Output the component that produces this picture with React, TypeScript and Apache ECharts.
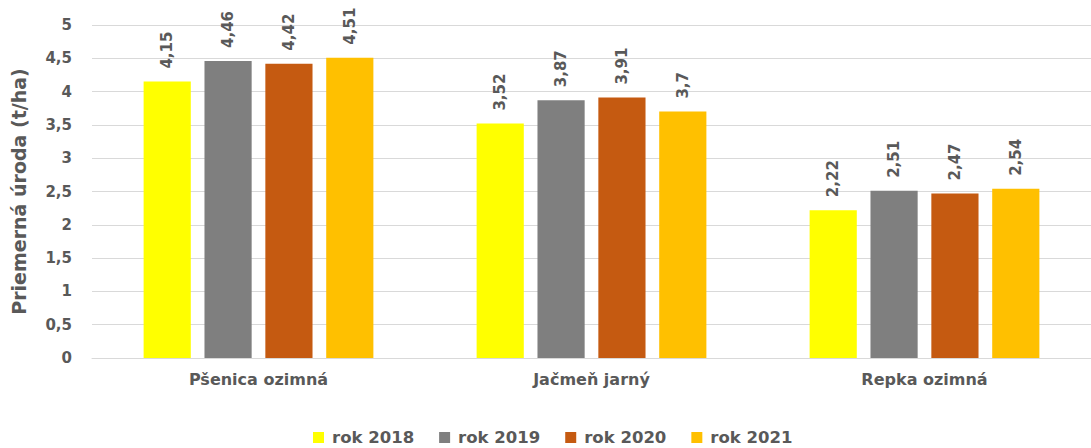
import React, { useEffect, useRef } from "react";
import * as echarts from "echarts";

const categories = ["Pšenica ozimná", "Jačmeň jarný", "Repka ozimná"];
const seriesNames = ["rok 2018", "rok 2019", "rok 2020", "rok 2021"];
const rok2018 = [4.15, 3.52, 2.22];
const rok2019 = [4.46, 3.87, 2.51];
const rok2020 = [4.42, 3.91, 2.47];
const rok2021 = [4.51, 3.7, 2.54];
const colors = ["#FFFF00", "#7F7F7F", "#C55A11", "#FFC000"];

const FONT = "DejaVu Sans";
const TXT = "#595959";

export default function App() {
  const ref = useRef<HTMLDivElement>(null);
  useEffect(() => {
    document.body.style.margin = "0";
    const chart = echarts.init(ref.current!, null, { renderer: "svg" });
    const data = [rok2018, rok2019, rok2020, rok2021];
    chart.setOption({
      animation: false,
      textStyle: { fontFamily: FONT },
      grid: { left: 92, right: -9, top: 25, bottom: 90 },
      legend: {
        top: 429,
        left: 313,
        padding: 0,
        itemWidth: 11,
        itemHeight: 11,
        itemGap: 25,
        icon: "rect",
        textStyle: { color: TXT, fontSize: 16.5, fontWeight: "bold", fontFamily: FONT, padding: [0, 0, 0, 3] },
        data: seriesNames,
      },
      xAxis: {
        type: "category",
        data: categories,
        axisLine: { lineStyle: { color: "#D9D9D9" } },
        axisTick: { show: false },
        axisLabel: { color: TXT, fontSize: 16, fontWeight: "bold", margin: 13, fontFamily: FONT },
      },
      yAxis: {
        type: "value",
        min: 0,
        max: 5,
        interval: 0.5,
        name: "Priemerná úroda (t/ha)",
        nameLocation: "middle",
        nameGap: 64,
        nameTextStyle: { color: TXT, fontSize: 19, fontWeight: "bold", fontFamily: FONT },
        axisLine: { show: false },
        axisTick: { show: false },
        splitLine: { lineStyle: { color: "#D9D9D9" } },
        axisLabel: {
          color: TXT,
          fontSize: 15,
          fontWeight: "bold",
          margin: 20,
          fontFamily: FONT,
          formatter: (v: number) => String(v).replace(".", ","),
        },
      },
      series: seriesNames.map((name, i) => ({
        name,
        type: "bar",
        data: data[i],
        itemStyle: { color: colors[i] },
        barGap: "29%",
        barCategoryGap: "31%",
        label: {
          show: true,
          position: "top",
          rotate: 90,
          align: "left",
          verticalAlign: "middle",
          distance: 13,
          color: TXT,
          fontSize: 15,
          fontWeight: "bold",
          fontFamily: FONT,
          formatter: (p: any) => String(p.value).replace(".", ","),
        },
      })),
    });
    return () => chart.dispose();
  }, []);
  return <div ref={ref} style={{ width: 1091, height: 448 }} />;
}
